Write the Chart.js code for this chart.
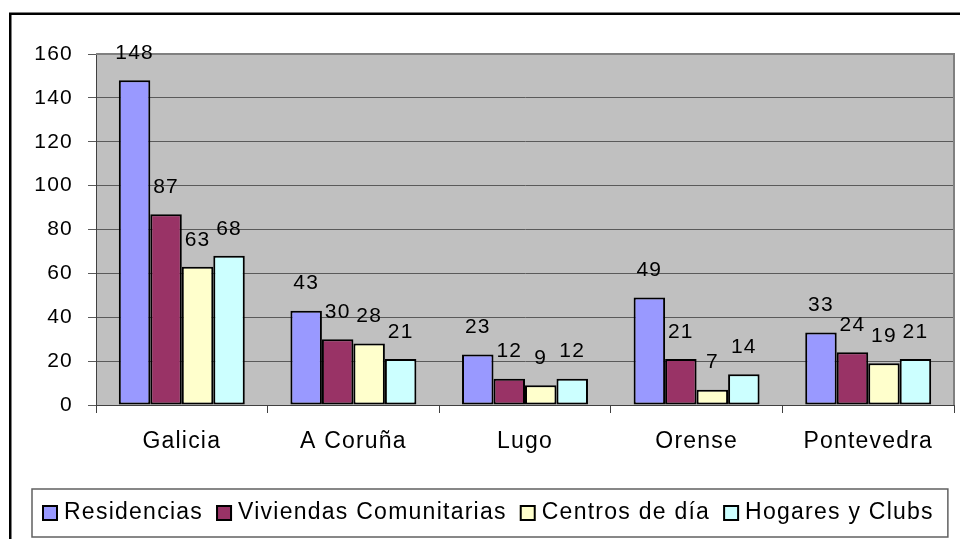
<!DOCTYPE html>
<html>
<head>
<meta charset="utf-8">
<script src="https://cdn.jsdelivr.net/npm/chart.js@4.4.1/dist/chart.umd.min.js"></script>
<style>
  html, body { margin: 0; padding: 0; background: #fff; }
  #wrap { position: relative; width: 960px; height: 539px; }
</style>
</head>
<body>
<div id="wrap"><canvas id="chart" width="960" height="539"></canvas></div>
<script>
// data
const regions = ['Galicia', 'A Coruña', 'Lugo', 'Orense', 'Pontevedra'];
const seriesNames = ['Residencias', 'Viviendas Comunitarias', 'Centros de día', 'Hogares y Clubs'];
const residencias = [148, 43, 23, 49, 33];
const viviendas = [87, 30, 12, 21, 24];
const centros = [63, 28, 9, 7, 19];
const hogares = [68, 21, 12, 14, 21];
const yMin = 0, yMax = 160, yStep = 20;

const colors = ['#9999FF', '#993366', '#FFFFCC', '#CCFFFF'];
const fontFamily = "'Liberation Sans', Arial, sans-serif";
const numSize = 21;   // numbers (axis + value labels)
const textSize = 23;  // category names + legend
const spacing = '1.2px';

// frame, plot background, border
const backdrop = {
    id: 'backdrop',
    beforeUpdate(chart) { chart.ctx.letterSpacing = spacing; },
    beforeDraw(chart) {
        const ctx = chart.ctx;
        const a = chart.chartArea;
        ctx.letterSpacing = spacing;
        ctx.save();
        ctx.fillStyle = '#fff';
        ctx.fillRect(0, 0, chart.width, chart.height);
        ctx.strokeStyle = '#000';
        ctx.lineWidth = 2.5;
        ctx.strokeRect(10.25, 13.75, 1000, 600);
        ctx.fillStyle = '#C0C0C0';
        ctx.fillRect(a.left, a.top, a.right - a.left, a.bottom - a.top);
        ctx.restore();
    },
    beforeDatasetsDraw(chart) {
        const ctx = chart.ctx;
        const a = chart.chartArea;
        ctx.save();
        ctx.strokeStyle = '#808080';
        ctx.lineWidth = 2;
        ctx.beginPath();
        ctx.moveTo(a.left, a.top);
        ctx.lineTo(a.right, a.top);
        ctx.lineTo(a.right, a.bottom);
        ctx.stroke();
        ctx.restore();
    }
};

// value labels above bars
const valueLabels = {
    id: 'valueLabels',
    afterDatasetsDraw(chart) {
        const ctx = chart.ctx;
        ctx.save();
        ctx.font = numSize + 'px ' + fontFamily;
        ctx.fillStyle = '#000';
        ctx.textAlign = 'center';
        ctx.textBaseline = 'middle';
        chart.data.datasets.forEach((ds, i) => {
            chart.getDatasetMeta(i).data.forEach((bar, j) => {
                ctx.fillText(String(ds.data[j]), bar.x, bar.y - 27);
            });
        });
        ctx.restore();
    }
};

// boxed legend along the bottom
const boxLegend = {
    id: 'boxLegend',
    afterDraw(chart) {
        const ctx = chart.ctx;
        ctx.save();
        ctx.letterSpacing = '1.25px';
        ctx.font = textSize + 'px ' + fontFamily;
        ctx.textBaseline = 'middle';
        ctx.textAlign = 'left';
        const cy = 513;
        let x = 42;
        const startX = x;
        let endX = x;
        chart.data.datasets.forEach((ds, i) => {
            ctx.fillStyle = ds.backgroundColor;
            ctx.fillRect(x, cy - 8, 16, 16);
            ctx.strokeStyle = '#000';
            ctx.lineWidth = 2;
            ctx.strokeRect(x + 1, cy - 7, 14, 14);
            ctx.fillStyle = '#000';
            ctx.fillText(ds.label, x + 22, cy);
            endX = x + 22 + ctx.measureText(ds.label).width;
            x = endX + 13;
        });
        ctx.strokeStyle = '#606060';
        ctx.lineWidth = 1.5;
        ctx.strokeRect(startX - 10, 489, endX + 14 - (startX - 10), 48);
        ctx.restore();
    }
};

const chart = new Chart(document.getElementById('chart'), {
    type: 'bar',
    data: {
        labels: regions,
        datasets: [
            { label: seriesNames[0], data: residencias, backgroundColor: colors[0] },
            { label: seriesNames[1], data: viviendas, backgroundColor: colors[1] },
            { label: seriesNames[2], data: centros, backgroundColor: colors[2] },
            { label: seriesNames[3], data: hogares, backgroundColor: colors[3] }
        ]
    },
    options: {
        responsive: false,
        animation: false,
        events: [],
        layout: { padding: { left: 0, right: 6, top: 54, bottom: 74 } },
        datasets: {
            bar: {
                borderColor: '#000',
                borderWidth: 2,
                borderSkipped: false,
                categoryPercentage: 0.734,
                barPercentage: 1
            }
        },
        plugins: {
            legend: { display: false },
            tooltip: { enabled: false }
        },
        scales: {
            x: {
                afterFit: (s) => { s.height = 60; },
                grid: {
                    drawOnChartArea: false,
                    color: '#404040',
                    tickLength: 8,
                    offset: true
                },
                border: { color: '#404040', width: 1 },
                ticks: {
                    color: '#000',
                    padding: 15,
                    maxRotation: 0,
                    font: { family: fontFamily, size: textSize }
                }
            },
            y: {
                min: yMin,
                max: yMax,
                afterFit: (s) => { s.width = 96; },
                grid: { color: '#5a5a5a', tickLength: 8 },
                border: { color: '#404040', width: 1 },
                ticks: {
                    stepSize: yStep,
                    color: '#000',
                    padding: 15,
                    font: { family: fontFamily, size: numSize }
                }
            }
        }
    },
    plugins: [backdrop, valueLabels, boxLegend]
});
</script>
</body>
</html>
